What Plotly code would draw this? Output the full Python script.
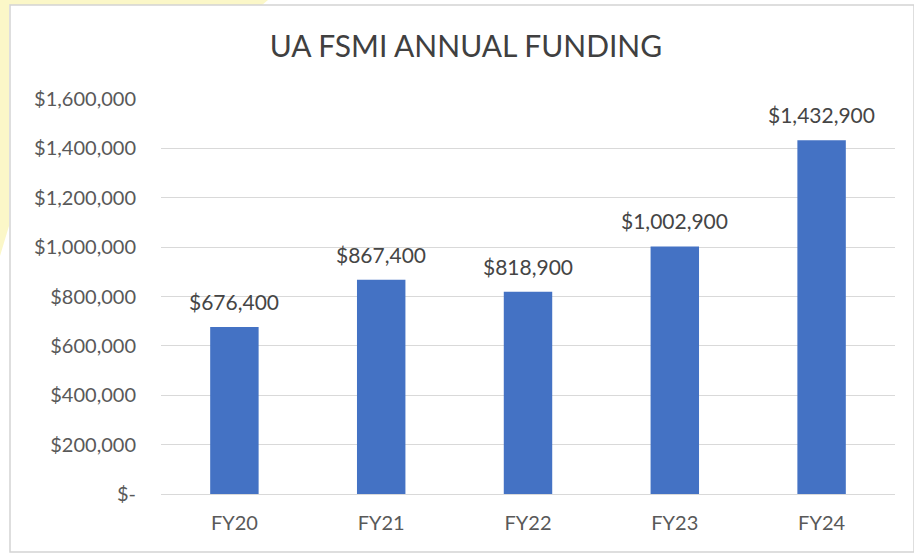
import plotly.graph_objects as go

categories = ["FY20", "FY21", "FY22", "FY23", "FY24"]
funding = [676400, 867400, 818900, 1002900, 1432900]
tick_values = [0, 200000, 400000, 600000, 800000, 1000000, 1200000, 1400000, 1600000]
tick_labels = ["$-", "$200,000", "$400,000", "$600,000", "$800,000",
               "$1,000,000", "$1,200,000", "$1,400,000", "$1,600,000"]
value_labels = ["$676,400", "$867,400", "$818,900", "$1,002,900", "$1,432,900"]

W, H = 914, 554
ML, MR, MT, MB = 161, 19, 99, 60
PW, PH = W - ML - MR, H - MT - MB


def px(x):
    return (x - ML) / PW


def py(y):
    return (H - MB - y) / PH


FONT = "Lato"

fig = go.Figure()
fig.add_trace(go.Bar(
    x=categories, y=funding,
    marker=dict(color="#4472C4", line=dict(width=0)),
    hoverinfo="x+y",
))

for cat, val, lab in zip(categories, funding, value_labels):
    fig.add_annotation(
        x=cat, y=val, text=lab, showarrow=False,
        xanchor="center", yanchor="bottom", yshift=11,
        font=dict(family=FONT, size=21, color="#454545"),
    )

shapes = [
    # pale yellow page background behind the chart (top-left)
    dict(type="path", xref="paper", yref="paper",
         path=f"M {px(0)},{py(0)} L {px(268)},{py(0)} L {px(262)},{py(5)} L {px(9)},{py(5)} "
              f"L {px(9)},{py(226)} L {px(0)},{py(256)} Z",
         fillcolor="#FBF7C8", line=dict(width=0), layer="below"),
    # chart frame
    dict(type="rect", xref="paper", yref="paper",
         x0=px(10), y0=py(5), x1=px(914), y1=py(552),
         line=dict(color="#D4D4D4", width=1.5), fillcolor="rgba(0,0,0,0)", layer="below"),
]

fig.update_layout(
    width=W, height=H,
    margin=dict(l=ML, r=MR, t=MT, b=MB),
    paper_bgcolor="white", plot_bgcolor="white",
    title=dict(text="UA FSMI ANNUAL FUNDING", xref="container", yref="container",
               x=466 / W, xanchor="center", y=1 - 46 / H, yanchor="middle",
               font=dict(family=FONT, size=30, color="#404040")),
    bargap=0.67,
    showlegend=False,
    shapes=shapes,
    font=dict(family=FONT),
)
fig.update_yaxes(
    range=[0, 1600000], tickvals=tick_values, ticktext=tick_labels,
    showgrid=True, gridcolor="#D9D9D9", gridwidth=1.2, zeroline=False,
    showline=False, ticks="", ticklabelstandoff=24,
    tickfont=dict(family=FONT, size=20, color="#595959"),
)
fig.update_xaxes(
    showline=True, linecolor="#D9D9D9", linewidth=1.2, ticks="",
    ticklabelstandoff=11,
    tickfont=dict(family=FONT, size=20, color="#595959"),
)

fig.write_html("out.html")
